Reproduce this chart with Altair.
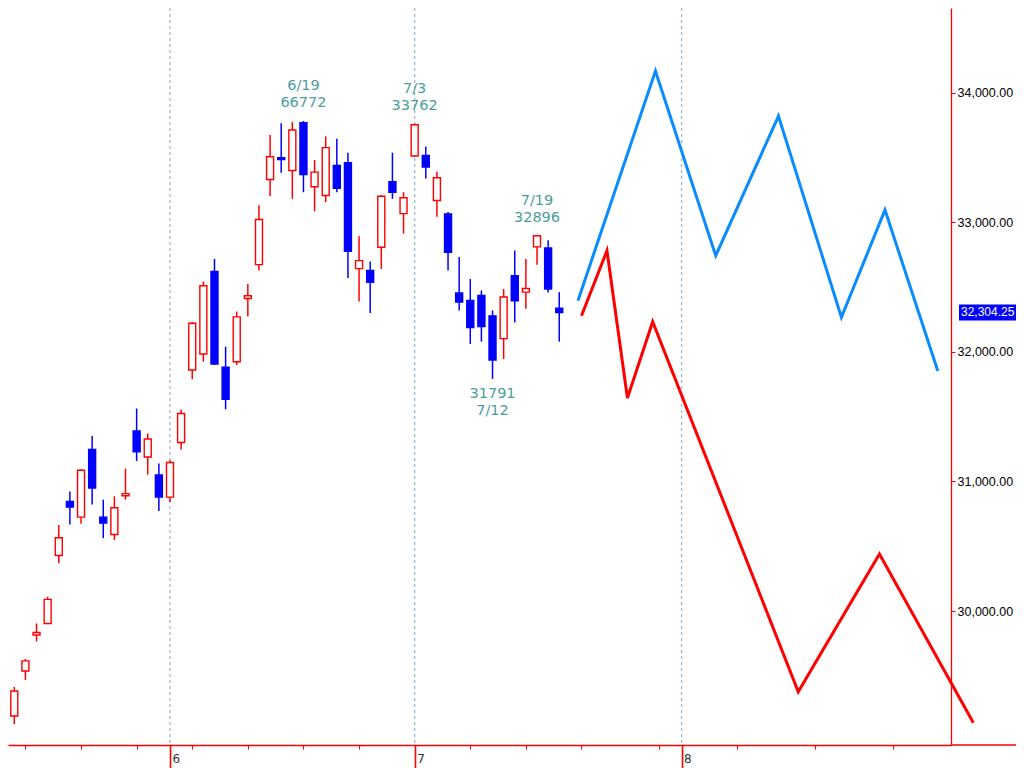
import altair as alt
import pandas as pd

# ---- candle data (Nikkei 225, 2023-05-12 .. 2023-07-21) ----
dates = ["5/12", "5/15", "5/16", "5/17", "5/18", "5/19", "5/22", "5/23", "5/24", "5/25",
         "5/26", "5/29", "5/30", "5/31", "6/1", "6/2", "6/5", "6/6", "6/7", "6/8",
         "6/9", "6/12", "6/13", "6/14", "6/15", "6/16", "6/19", "6/20", "6/21", "6/22",
         "6/23", "6/26", "6/27", "6/28", "6/29", "6/30", "7/3", "7/4", "7/5", "7/6",
         "7/7", "7/10", "7/11", "7/12", "7/13", "7/14", "7/18", "7/19", "7/20", "7/21"]
opens = [29190, 29537, 29815, 29904, 30428, 30846, 30725, 31246, 30725, 30591,
         30890, 31390, 31189, 31050, 30879, 31300, 31860, 31984, 32621, 31881,
         31924, 32412, 32673, 33330, 33498, 33400, 33769, 33274, 33207, 33439,
         33460, 32642, 32628, 32807, 33313, 33067, 33511, 33516, 33168, 33065,
         32454, 32396, 32435, 32278, 32102, 32587, 32461, 32810, 32802, 32337]
highs = [29414, 29630, 29904, 30111, 30663, 30923, 31095, 31351, 30859, 30885,
         31099, 31563, 31370, 31138, 31163, 31556, 32230, 32543, 32717, 32040,
         32311, 32523, 33132, 33673, 33765, 33775, 33782, 33480, 33663, 33645,
         33537, 32892, 32698, 33210, 33537, 33232, 33762, 33584, 33390, 33080,
         32732, 32562, 32474, 32319, 32485, 32783, 32717, 32896, 32861, 32461]
lows = [29128, 29468, 29765, 29900, 30368, 30668, 30673, 30823, 30562, 30549,
        30859, 31158, 31053, 30771, 30841, 31246, 31788, 31924, 31900, 31556,
        31899, 32272, 32628, 33201, 33382, 33181, 33232, 33085, 33155, 33232,
        32570, 32389, 32299, 32639, 33181, 32913, 33505, 33338, 33042, 32628,
        32319, 32061, 32079, 31791, 31945, 32226, 32332, 32673, 32458, 32079]
closes = [29383, 29615, 29834, 30090, 30565, 30802, 31086, 30949, 30678, 30797,
          30906, 31228, 31328, 30879, 31146, 31524, 32221, 32510, 31906, 31633,
          32270, 32433, 33021, 33506, 33485, 33712, 33369, 33387, 33576, 33263,
          32776, 32704, 32536, 33201, 33232, 33189, 33753, 33426, 33344, 32768,
          32384, 32187, 32195, 31937, 32423, 32394, 32489, 32896, 32485, 32304]

# ---- forecast lines ----
blue_idx = [50.68, 57.65, 63.07, 68.71, 74.37, 78.29, 83.04]
blue_val = [32395, 34167, 32742, 33820, 32267, 33095, 31852]
red_idx = [51.0, 53.29, 55.13, 57.40, 70.49, 77.79, 86.23]
red_val = [32279, 32781, 31644, 32233, 29377, 30440, 29138]

# ---- annotations ----
top_idx = [26, 36, 47]
top_price = [33782, 33762, 32896]
top_date = ["6/19", "7/3", "7/19"]
top_value = ["66772", "33762", "32896"]
low_idx = [43]
low_price = [31791]
low_value = ["31791"]
low_date = ["7/12"]

last_price = [32304.25]

# ---- axes ----
tick_idx = [1, 6, 11, 14, 16, 21, 26, 31, 36, 41, 46, 51, 58, 60, 65, 72, 79]
month_idx = [14, 36, 60]
month_labels = ["6", "7", "8"]
y_ticks = [30000, 31000, 32000, 33000, 34000]

X_DOMAIN = [-0.1157, 83.774]
Y_DOMAIN = [28966.1, 34653.6]

candles = pd.DataFrame({"idx": list(range(len(dates))), "date": dates, "open": opens,
                        "high": highs, "low": lows, "close": closes})
candles["dir"] = ["up" if c >= o else "down" for o, c in zip(opens, closes)]

blue_df = pd.DataFrame({"idx": blue_idx, "val": blue_val})
red_df = pd.DataFrame({"idx": red_idx, "val": red_val})
tops = pd.DataFrame({"idx": top_idx, "price": top_price, "d": top_date, "v": top_value})
lows_df = pd.DataFrame({"idx": low_idx, "price": low_price, "d": low_date, "v": low_value})
months = pd.DataFrame({"idx": month_idx, "m": month_labels})
lp = pd.DataFrame({"price": last_price})

xs = alt.Scale(domain=X_DOMAIN, nice=False, zero=False)
ys = alt.Scale(domain=Y_DOMAIN, nice=False, zero=False)

major_test = "indexof([" + ",".join(str(m) for m in month_idx) + "], datum.value) >= 0"
label_expr = "".join(f"datum.value == {i} ? '{l}' : " for i, l in zip(month_idx, month_labels)) + "''"

x_axis = alt.Axis(values=tick_idx, labelExpr=label_expr, grid=False, title=None,
                  domainColor="#ff0000", domainWidth=1.3, tickColor="#ff0000",
                  tickSize={"condition": {"test": major_test, "value": 23}, "value": 4},
                  tickWidth={"condition": {"test": major_test, "value": 1.6}, "value": 1.1},
                  labelAlign="left", labelOffset=2, labelPadding=-15, labelBaseline="top",
                  labelFont="DejaVu Sans", labelFontSize=12, labelColor="#333333")
y_axis = alt.Axis(orient="right", values=y_ticks, format=",.2f", grid=False, title=None,
                  domainColor="#ff0000", domainWidth=1.3, tickColor="#ff0000", tickSize=4,
                  labelPadding=2, labelFont="Liberation Sans", labelFontSize=12.5,
                  labelColor="#000000")


def X(field):
    return alt.X(field, scale=xs, axis=x_axis)


def Y(field):
    return alt.Y(field, scale=ys, axis=y_axis)


RED = "#ff0000"
BLUE = "#0000ff"

grid = alt.Chart(months).mark_rule(color="#9fb6d2", strokeDash=[3, 3], strokeWidth=1.3).encode(
    x=X("idx:Q")
)

wicks = alt.Chart(candles).mark_rule(strokeWidth=1.5).encode(
    x=X("idx:Q"),
    y=Y("low:Q"),
    y2="high:Q",
    stroke=alt.Stroke("dir:N", scale=alt.Scale(domain=["up", "down"], range=[RED, BLUE]), legend=None),
)

bodies = alt.Chart(candles).mark_bar(size=7, strokeWidth=1.4, orient="vertical").encode(
    x=X("idx:Q"),
    y=Y("open:Q"),
    y2="close:Q",
    fill=alt.Fill("dir:N", scale=alt.Scale(domain=["up", "down"], range=["#ffffff", BLUE]), legend=None),
    stroke=alt.Stroke("dir:N", scale=alt.Scale(domain=["up", "down"], range=[RED, BLUE]), legend=None),
)

blue_line = alt.Chart(blue_df).mark_line(strokeWidth=3, color="#0a8cff").encode(
    x=X("idx:Q"), y=Y("val:Q"))
red_line = alt.Chart(red_df).mark_line(strokeWidth=3, color=RED).encode(
    x=X("idx:Q"), y=Y("val:Q"))

TEAL = "#4c9e9c"
ann_style = dict(font="DejaVu Sans", fontSize=14.5, color=TEAL, align="center", baseline="middle")
top_v = alt.Chart(tops).mark_text(dy=-18, **ann_style).encode(x=X("idx:Q"), y=Y("price:Q"), text="v:N")
top_d = alt.Chart(tops).mark_text(dy=-35, **ann_style).encode(x=X("idx:Q"), y=Y("price:Q"), text="d:N")
low_v = alt.Chart(lows_df).mark_text(dy=15, **ann_style).encode(x=X("idx:Q"), y=Y("price:Q"), text="v:N")
low_d = alt.Chart(lows_df).mark_text(dy=32, **ann_style).encode(x=X("idx:Q"), y=Y("price:Q"), text="d:N")

price_box = alt.Chart(lp).mark_rule(color=BLUE, strokeWidth=16).encode(
    x=alt.value(951), x2=alt.value(1010), y=Y("price:Q"))
price_txt = alt.Chart(lp).mark_text(align="left", baseline="middle", color="#ffffff",
                                    font="Liberation Sans", fontSize=12).encode(
    x=alt.value(953), y=Y("price:Q"),
    text=alt.Text("price:Q", format=",.2f"))

axis_ext = alt.Chart(lp).mark_rule(color=RED, strokeWidth=1.3).encode(
    x=alt.value(943), x2=alt.value(1010), y=alt.value(737))

chart = alt.layer(grid, wicks, bodies, blue_line, red_line, top_v, top_d, low_v, low_d,
                  price_box, price_txt, axis_ext).properties(
    width=943, height=737,
    autosize=alt.AutoSizeParams(type="none"),
    padding={"left": 0, "top": 0, "right": 65, "bottom": 23},
    background="#ffffff",
).configure_view(stroke=None)

chart.save("out.html", embed_options={"renderer": "svg", "actions": False})
